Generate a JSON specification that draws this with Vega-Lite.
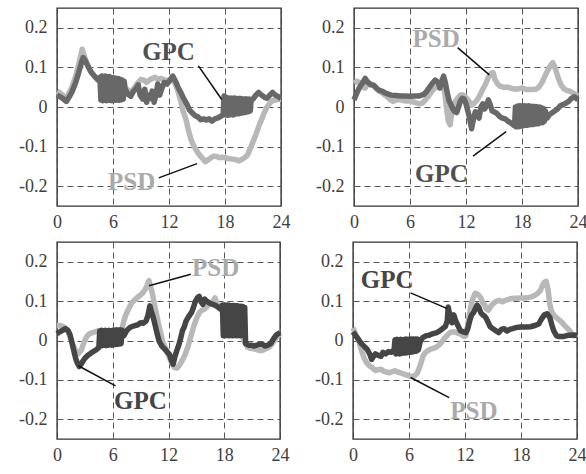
{
"$schema": "https://vega.github.io/schema/vega-lite/v6.json",
"padding": {"left": 17, "top": 7, "right": 0, "bottom": 0},
"config": {
 "view": {"stroke": "#333", "strokeWidth": 1.4},
 "font": "Liberation Serif",
 "axis": {"grid": true, "gridColor": "#444", "gridDash": [6,4], "gridWidth": 0.9, "domain": false, "ticks": false, "labelFont": "Liberation Serif", "labelFontSize": 18, "labelColor": "#404040", "labelPadding": 7, "labelFlush": false, "labelOverlap": false},
 "axisY": {"labelPadding": 10}
},
"datasets": {
"lines": [
{"p":1,"s":"GPC","t":0,"v":0.03},{"p":1,"s":"GPC","t":0.3,"v":0.026},{"p":1,"s":"GPC","t":0.6,"v":0.022},{"p":1,"s":"GPC","t":1,"v":0.014},{"p":1,"s":"GPC","t":1.3,"v":0.025},{"p":1,"s":"GPC","t":1.6,"v":0.038},{"p":1,"s":"GPC","t":2,"v":0.062},{"p":1,"s":"GPC","t":2.3,"v":0.085},{"p":1,"s":"GPC","t":2.6,"v":0.11},{"p":1,"s":"GPC","t":2.8,"v":0.125},{"p":1,"s":"GPC","t":3,"v":0.118},{"p":1,"s":"GPC","t":3.3,"v":0.104},{"p":1,"s":"GPC","t":3.6,"v":0.09},{"p":1,"s":"GPC","t":4,"v":0.078},{"p":1,"s":"GPC","t":4.4,"v":0.068},
{"p":1,"s":"GPC","t":4.6,"v":0.075},{"p":1,"s":"GPC","t":4.7,"v":0.018},{"p":1,"s":"GPC","t":4.8,"v":0.078},{"p":1,"s":"GPC","t":4.9,"v":0.016},{"p":1,"s":"GPC","t":5.0,"v":0.077},{"p":1,"s":"GPC","t":5.1,"v":0.017},{"p":1,"s":"GPC","t":5.2,"v":0.078},{"p":1,"s":"GPC","t":5.3,"v":0.016},{"p":1,"s":"GPC","t":5.4,"v":0.076},{"p":1,"s":"GPC","t":5.5,"v":0.018},{"p":1,"s":"GPC","t":5.6,"v":0.077},{"p":1,"s":"GPC","t":5.7,"v":0.017},{"p":1,"s":"GPC","t":5.8,"v":0.075},{"p":1,"s":"GPC","t":5.9,"v":0.016},{"p":1,"s":"GPC","t":6.0,"v":0.074},{"p":1,"s":"GPC","t":6.1,"v":0.018},{"p":1,"s":"GPC","t":6.2,"v":0.073},{"p":1,"s":"GPC","t":6.3,"v":0.017},{"p":1,"s":"GPC","t":6.4,"v":0.072},{"p":1,"s":"GPC","t":6.5,"v":0.018},{"p":1,"s":"GPC","t":6.6,"v":0.072},{"p":1,"s":"GPC","t":6.7,"v":0.017},{"p":1,"s":"GPC","t":6.8,"v":0.07},{"p":1,"s":"GPC","t":6.9,"v":0.018},{"p":1,"s":"GPC","t":7.0,"v":0.068},{"p":1,"s":"GPC","t":7.1,"v":0.02},{"p":1,"s":"GPC","t":7.2,"v":0.065},
{"p":1,"s":"GPC","t":7.3,"v":0.045},{"p":1,"s":"GPC","t":7.6,"v":0.032},{"p":1,"s":"GPC","t":7.9,"v":0.027},{"p":1,"s":"GPC","t":8.2,"v":0.04},{"p":1,"s":"GPC","t":8.5,"v":0.048},{"p":1,"s":"GPC","t":8.7,"v":0.056},{"p":1,"s":"GPC","t":8.9,"v":0.03},{"p":1,"s":"GPC","t":9.2,"v":0.02},{"p":1,"s":"GPC","t":9.4,"v":0.045},{"p":1,"s":"GPC","t":9.6,"v":0.012},{"p":1,"s":"GPC","t":9.8,"v":0.03},{"p":1,"s":"GPC","t":10.0,"v":0.022},{"p":1,"s":"GPC","t":10.2,"v":0.04},{"p":1,"s":"GPC","t":10.4,"v":0.012},{"p":1,"s":"GPC","t":10.6,"v":0.03},{"p":1,"s":"GPC","t":10.8,"v":0.058},{"p":1,"s":"GPC","t":11.0,"v":0.03},{"p":1,"s":"GPC","t":11.2,"v":0.045},{"p":1,"s":"GPC","t":11.5,"v":0.062},{"p":1,"s":"GPC","t":11.8,"v":0.058},{"p":1,"s":"GPC","t":12.1,"v":0.068},{"p":1,"s":"GPC","t":12.4,"v":0.078},{"p":1,"s":"GPC","t":12.7,"v":0.065},{"p":1,"s":"GPC","t":13.0,"v":0.048},{"p":1,"s":"GPC","t":13.3,"v":0.035},{"p":1,"s":"GPC","t":13.6,"v":0.02},{"p":1,"s":"GPC","t":13.9,"v":0.008},{"p":1,"s":"GPC","t":14.2,"v":-0.008},{"p":1,"s":"GPC","t":14.5,"v":-0.015},{"p":1,"s":"GPC","t":14.8,"v":-0.022},{"p":1,"s":"GPC","t":15.1,"v":-0.025},{"p":1,"s":"GPC","t":15.4,"v":-0.032},{"p":1,"s":"GPC","t":15.7,"v":-0.03},{"p":1,"s":"GPC","t":16.0,"v":-0.033},{"p":1,"s":"GPC","t":16.3,"v":-0.03},{"p":1,"s":"GPC","t":16.6,"v":-0.036},{"p":1,"s":"GPC","t":16.9,"v":-0.03},{"p":1,"s":"GPC","t":17.2,"v":-0.028},{"p":1,"s":"GPC","t":17.5,"v":-0.024},{"p":1,"s":"GPC","t":17.8,"v":-0.02},{"p":1,"s":"GPC","t":17.9,"v":0.028},
{"p":1,"s":"GPC","t":18.0,"v":0.024},{"p":1,"s":"GPC","t":18.1,"v":-0.02},{"p":1,"s":"GPC","t":18.2,"v":0.024},{"p":1,"s":"GPC","t":18.3,"v":-0.021},{"p":1,"s":"GPC","t":18.4,"v":0.022},{"p":1,"s":"GPC","t":18.5,"v":-0.02},{"p":1,"s":"GPC","t":18.6,"v":0.023},{"p":1,"s":"GPC","t":18.7,"v":-0.019},{"p":1,"s":"GPC","t":18.8,"v":0.022},{"p":1,"s":"GPC","t":18.9,"v":-0.02},{"p":1,"s":"GPC","t":19.0,"v":0.023},{"p":1,"s":"GPC","t":19.1,"v":-0.018},{"p":1,"s":"GPC","t":19.2,"v":0.022},{"p":1,"s":"GPC","t":19.3,"v":-0.017},{"p":1,"s":"GPC","t":19.4,"v":0.021},{"p":1,"s":"GPC","t":19.5,"v":-0.017},{"p":1,"s":"GPC","t":19.6,"v":0.022},{"p":1,"s":"GPC","t":19.7,"v":-0.016},{"p":1,"s":"GPC","t":19.8,"v":0.021},{"p":1,"s":"GPC","t":19.9,"v":-0.015},{"p":1,"s":"GPC","t":20.0,"v":0.02},{"p":1,"s":"GPC","t":20.1,"v":-0.014},{"p":1,"s":"GPC","t":20.2,"v":0.021},{"p":1,"s":"GPC","t":20.3,"v":-0.013},{"p":1,"s":"GPC","t":20.4,"v":0.02},{"p":1,"s":"GPC","t":20.5,"v":-0.012},{"p":1,"s":"GPC","t":20.6,"v":0.02},{"p":1,"s":"GPC","t":20.7,"v":-0.01},{"p":1,"s":"GPC","t":20.8,"v":0.018},
{"p":1,"s":"GPC","t":21.0,"v":0.02},{"p":1,"s":"GPC","t":21.3,"v":0.03},{"p":1,"s":"GPC","t":21.6,"v":0.037},{"p":1,"s":"GPC","t":21.9,"v":0.03},{"p":1,"s":"GPC","t":22.2,"v":0.025},{"p":1,"s":"GPC","t":22.5,"v":0.022},{"p":1,"s":"GPC","t":22.8,"v":0.03},{"p":1,"s":"GPC","t":23.1,"v":0.037},{"p":1,"s":"GPC","t":23.4,"v":0.03},{"p":1,"s":"GPC","t":23.7,"v":0.026},{"p":1,"s":"GPC","t":24,"v":0.022},

{"p":1,"s":"PSD","t":0,"v":0.04},{"p":1,"s":"PSD","t":0.3,"v":0.036},{"p":1,"s":"PSD","t":0.6,"v":0.03},{"p":1,"s":"PSD","t":1.0,"v":0.022},{"p":1,"s":"PSD","t":1.3,"v":0.035},{"p":1,"s":"PSD","t":1.6,"v":0.05},{"p":1,"s":"PSD","t":2.0,"v":0.078},{"p":1,"s":"PSD","t":2.3,"v":0.105},{"p":1,"s":"PSD","t":2.6,"v":0.135},{"p":1,"s":"PSD","t":2.7,"v":0.146},{"p":1,"s":"PSD","t":2.9,"v":0.13},{"p":1,"s":"PSD","t":3.2,"v":0.11},{"p":1,"s":"PSD","t":3.5,"v":0.095},{"p":1,"s":"PSD","t":3.8,"v":0.085},{"p":1,"s":"PSD","t":4.1,"v":0.076},{"p":1,"s":"PSD","t":4.4,"v":0.07},{"p":1,"s":"PSD","t":4.7,"v":0.068},{"p":1,"s":"PSD","t":5.2,"v":0.065},{"p":1,"s":"PSD","t":5.7,"v":0.06},{"p":1,"s":"PSD","t":6.2,"v":0.055},{"p":1,"s":"PSD","t":6.7,"v":0.05},{"p":1,"s":"PSD","t":7.2,"v":0.05},{"p":1,"s":"PSD","t":7.5,"v":0.045},{"p":1,"s":"PSD","t":7.8,"v":0.038},{"p":1,"s":"PSD","t":8.1,"v":0.042},{"p":1,"s":"PSD","t":8.4,"v":0.052},{"p":1,"s":"PSD","t":8.7,"v":0.062},{"p":1,"s":"PSD","t":9.0,"v":0.07},{"p":1,"s":"PSD","t":9.3,"v":0.068},{"p":1,"s":"PSD","t":9.6,"v":0.062},{"p":1,"s":"PSD","t":9.9,"v":0.068},{"p":1,"s":"PSD","t":10.2,"v":0.072},{"p":1,"s":"PSD","t":10.5,"v":0.075},{"p":1,"s":"PSD","t":10.8,"v":0.07},{"p":1,"s":"PSD","t":11.1,"v":0.072},{"p":1,"s":"PSD","t":11.4,"v":0.07},{"p":1,"s":"PSD","t":11.7,"v":0.068},{"p":1,"s":"PSD","t":12.0,"v":0.066},{"p":1,"s":"PSD","t":12.3,"v":0.068},{"p":1,"s":"PSD","t":12.6,"v":0.062},{"p":1,"s":"PSD","t":12.9,"v":0.045},{"p":1,"s":"PSD","t":13.2,"v":0.02},{"p":1,"s":"PSD","t":13.5,"v":-0.01},{"p":1,"s":"PSD","t":13.8,"v":-0.03},{"p":1,"s":"PSD","t":14.1,"v":-0.06},{"p":1,"s":"PSD","t":14.4,"v":-0.085},{"p":1,"s":"PSD","t":14.7,"v":-0.1},{"p":1,"s":"PSD","t":15.0,"v":-0.112},{"p":1,"s":"PSD","t":15.3,"v":-0.122},{"p":1,"s":"PSD","t":15.6,"v":-0.13},{"p":1,"s":"PSD","t":15.9,"v":-0.138},{"p":1,"s":"PSD","t":16.2,"v":-0.133},{"p":1,"s":"PSD","t":16.5,"v":-0.128},{"p":1,"s":"PSD","t":16.8,"v":-0.124},{"p":1,"s":"PSD","t":17.1,"v":-0.125},{"p":1,"s":"PSD","t":17.4,"v":-0.128},{"p":1,"s":"PSD","t":17.7,"v":-0.127},{"p":1,"s":"PSD","t":18.0,"v":-0.128},{"p":1,"s":"PSD","t":18.3,"v":-0.13},{"p":1,"s":"PSD","t":18.6,"v":-0.131},{"p":1,"s":"PSD","t":18.9,"v":-0.132},{"p":1,"s":"PSD","t":19.2,"v":-0.133},{"p":1,"s":"PSD","t":19.5,"v":-0.136},{"p":1,"s":"PSD","t":19.8,"v":-0.132},{"p":1,"s":"PSD","t":20.1,"v":-0.128},{"p":1,"s":"PSD","t":20.4,"v":-0.122},{"p":1,"s":"PSD","t":20.7,"v":-0.105},{"p":1,"s":"PSD","t":21.0,"v":-0.088},{"p":1,"s":"PSD","t":21.3,"v":-0.07},{"p":1,"s":"PSD","t":21.6,"v":-0.05},{"p":1,"s":"PSD","t":21.9,"v":-0.033},{"p":1,"s":"PSD","t":22.2,"v":-0.015},{"p":1,"s":"PSD","t":22.5,"v":0.0},{"p":1,"s":"PSD","t":22.8,"v":0.01},{"p":1,"s":"PSD","t":23.1,"v":0.016},{"p":1,"s":"PSD","t":23.5,"v":0.018},{"p":1,"s":"PSD","t":24,"v":0.02},

{"p":2,"s":"GPC","t":0,"v":0.018},{"p":2,"s":"GPC","t":0.3,"v":0.035},{"p":2,"s":"GPC","t":0.6,"v":0.05},{"p":2,"s":"GPC","t":0.9,"v":0.06},{"p":2,"s":"GPC","t":1.2,"v":0.072},{"p":2,"s":"GPC","t":1.5,"v":0.062},{"p":2,"s":"GPC","t":1.8,"v":0.056},{"p":2,"s":"GPC","t":2.1,"v":0.055},{"p":2,"s":"GPC","t":2.4,"v":0.048},{"p":2,"s":"GPC","t":2.7,"v":0.042},{"p":2,"s":"GPC","t":3.0,"v":0.04},{"p":2,"s":"GPC","t":3.3,"v":0.036},{"p":2,"s":"GPC","t":3.6,"v":0.033},{"p":2,"s":"GPC","t":4.0,"v":0.03},{"p":2,"s":"GPC","t":4.5,"v":0.029},{"p":2,"s":"GPC","t":5.0,"v":0.028},{"p":2,"s":"GPC","t":5.5,"v":0.028},{"p":2,"s":"GPC","t":6.0,"v":0.027},{"p":2,"s":"GPC","t":6.5,"v":0.028},{"p":2,"s":"GPC","t":7.0,"v":0.028},{"p":2,"s":"GPC","t":7.5,"v":0.032},{"p":2,"s":"GPC","t":7.8,"v":0.04},{"p":2,"s":"GPC","t":8.1,"v":0.05},{"p":2,"s":"GPC","t":8.4,"v":0.06},{"p":2,"s":"GPC","t":8.7,"v":0.068},{"p":2,"s":"GPC","t":9.0,"v":0.062},{"p":2,"s":"GPC","t":9.2,"v":0.048},{"p":2,"s":"GPC","t":9.4,"v":0.065},{"p":2,"s":"GPC","t":9.6,"v":0.078},{"p":2,"s":"GPC","t":9.8,"v":0.06},{"p":2,"s":"GPC","t":10.0,"v":0.035},{"p":2,"s":"GPC","t":10.2,"v":0.015},{"p":2,"s":"GPC","t":10.4,"v":0.005},{"p":2,"s":"GPC","t":10.6,"v":-0.005},{"p":2,"s":"GPC","t":10.8,"v":-0.012},{"p":2,"s":"GPC","t":11.0,"v":-0.014},{"p":2,"s":"GPC","t":11.2,"v":0.0},{"p":2,"s":"GPC","t":11.4,"v":0.015},{"p":2,"s":"GPC","t":11.6,"v":0.022},{"p":2,"s":"GPC","t":11.8,"v":0.02},{"p":2,"s":"GPC","t":12.0,"v":0.008},{"p":2,"s":"GPC","t":12.2,"v":-0.01},{"p":2,"s":"GPC","t":12.4,"v":-0.03},{"p":2,"s":"GPC","t":12.6,"v":-0.055},{"p":2,"s":"GPC","t":12.8,"v":-0.03},{"p":2,"s":"GPC","t":13.0,"v":-0.012},{"p":2,"s":"GPC","t":13.2,"v":-0.02},{"p":2,"s":"GPC","t":13.4,"v":-0.028},{"p":2,"s":"GPC","t":13.6,"v":0.0},{"p":2,"s":"GPC","t":13.8,"v":0.008},{"p":2,"s":"GPC","t":14.0,"v":-0.005},{"p":2,"s":"GPC","t":14.2,"v":0.005},{"p":2,"s":"GPC","t":14.4,"v":0.018},{"p":2,"s":"GPC","t":14.6,"v":0.005},{"p":2,"s":"GPC","t":14.8,"v":-0.01},{"p":2,"s":"GPC","t":15.0,"v":-0.012},{"p":2,"s":"GPC","t":15.3,"v":-0.016},{"p":2,"s":"GPC","t":15.6,"v":-0.024},{"p":2,"s":"GPC","t":15.9,"v":-0.028},{"p":2,"s":"GPC","t":16.2,"v":-0.03},{"p":2,"s":"GPC","t":16.5,"v":-0.036},{"p":2,"s":"GPC","t":16.8,"v":-0.04},{"p":2,"s":"GPC","t":17.1,"v":-0.046},{"p":2,"s":"GPC","t":17.2,"v":-0.048},
{"p":2,"s":"GPC","t":17.3,"v":0.0},{"p":2,"s":"GPC","t":17.4,"v":-0.05},{"p":2,"s":"GPC","t":17.5,"v":0.002},{"p":2,"s":"GPC","t":17.6,"v":-0.05},{"p":2,"s":"GPC","t":17.7,"v":0.003},{"p":2,"s":"GPC","t":17.8,"v":-0.049},{"p":2,"s":"GPC","t":17.9,"v":0.003},{"p":2,"s":"GPC","t":18.0,"v":-0.048},{"p":2,"s":"GPC","t":18.1,"v":0.002},{"p":2,"s":"GPC","t":18.2,"v":-0.047},{"p":2,"s":"GPC","t":18.3,"v":0.003},{"p":2,"s":"GPC","t":18.4,"v":-0.046},{"p":2,"s":"GPC","t":18.5,"v":0.002},{"p":2,"s":"GPC","t":18.6,"v":-0.046},{"p":2,"s":"GPC","t":18.7,"v":0.003},{"p":2,"s":"GPC","t":18.8,"v":-0.045},{"p":2,"s":"GPC","t":18.9,"v":0.002},{"p":2,"s":"GPC","t":19.0,"v":-0.044},{"p":2,"s":"GPC","t":19.1,"v":0.002},{"p":2,"s":"GPC","t":19.2,"v":-0.044},{"p":2,"s":"GPC","t":19.3,"v":0.001},{"p":2,"s":"GPC","t":19.4,"v":-0.043},{"p":2,"s":"GPC","t":19.5,"v":0.001},{"p":2,"s":"GPC","t":19.6,"v":-0.042},{"p":2,"s":"GPC","t":19.7,"v":0.0},{"p":2,"s":"GPC","t":19.8,"v":-0.042},{"p":2,"s":"GPC","t":19.9,"v":0.0},{"p":2,"s":"GPC","t":20.0,"v":-0.04},{"p":2,"s":"GPC","t":20.1,"v":-0.002},{"p":2,"s":"GPC","t":20.2,"v":-0.04},{"p":2,"s":"GPC","t":20.3,"v":-0.004},{"p":2,"s":"GPC","t":20.4,"v":-0.036},{"p":2,"s":"GPC","t":20.5,"v":-0.01},
{"p":2,"s":"GPC","t":20.7,"v":-0.028},{"p":2,"s":"GPC","t":20.9,"v":-0.02},{"p":2,"s":"GPC","t":21.2,"v":-0.015},{"p":2,"s":"GPC","t":21.5,"v":-0.01},{"p":2,"s":"GPC","t":21.8,"v":-0.005},{"p":2,"s":"GPC","t":22.1,"v":0.003},{"p":2,"s":"GPC","t":22.4,"v":0.006},{"p":2,"s":"GPC","t":22.7,"v":0.01},{"p":2,"s":"GPC","t":23.0,"v":0.014},{"p":2,"s":"GPC","t":23.3,"v":0.022},{"p":2,"s":"GPC","t":23.6,"v":0.026},{"p":2,"s":"GPC","t":24,"v":0.018},

{"p":2,"s":"PSD","t":0,"v":0.06},{"p":2,"s":"PSD","t":0.3,"v":0.065},{"p":2,"s":"PSD","t":0.6,"v":0.062},{"p":2,"s":"PSD","t":0.9,"v":0.05},{"p":2,"s":"PSD","t":1.2,"v":0.048},{"p":2,"s":"PSD","t":1.5,"v":0.062},{"p":2,"s":"PSD","t":1.8,"v":0.058},{"p":2,"s":"PSD","t":2.1,"v":0.055},{"p":2,"s":"PSD","t":2.4,"v":0.046},{"p":2,"s":"PSD","t":2.7,"v":0.04},{"p":2,"s":"PSD","t":3.0,"v":0.036},{"p":2,"s":"PSD","t":3.3,"v":0.03},{"p":2,"s":"PSD","t":3.6,"v":0.025},{"p":2,"s":"PSD","t":3.9,"v":0.018},{"p":2,"s":"PSD","t":4.2,"v":0.014},{"p":2,"s":"PSD","t":4.5,"v":0.018},{"p":2,"s":"PSD","t":5.0,"v":0.018},{"p":2,"s":"PSD","t":5.5,"v":0.015},{"p":2,"s":"PSD","t":6.0,"v":0.015},{"p":2,"s":"PSD","t":6.5,"v":0.012},{"p":2,"s":"PSD","t":7.0,"v":0.008},{"p":2,"s":"PSD","t":7.3,"v":0.01},{"p":2,"s":"PSD","t":7.6,"v":0.016},{"p":2,"s":"PSD","t":7.9,"v":0.025},{"p":2,"s":"PSD","t":8.2,"v":0.035},{"p":2,"s":"PSD","t":8.5,"v":0.045},{"p":2,"s":"PSD","t":8.8,"v":0.05},{"p":2,"s":"PSD","t":9.1,"v":0.05},{"p":2,"s":"PSD","t":9.4,"v":0.052},{"p":2,"s":"PSD","t":9.7,"v":0.04},{"p":2,"s":"PSD","t":9.9,"v":0.0},{"p":2,"s":"PSD","t":10.1,"v":-0.035},{"p":2,"s":"PSD","t":10.3,"v":-0.045},{"p":2,"s":"PSD","t":10.5,"v":-0.01},{"p":2,"s":"PSD","t":10.8,"v":0.012},{"p":2,"s":"PSD","t":11.1,"v":0.022},{"p":2,"s":"PSD","t":11.4,"v":0.03},{"p":2,"s":"PSD","t":11.7,"v":0.03},{"p":2,"s":"PSD","t":12.0,"v":0.024},{"p":2,"s":"PSD","t":12.3,"v":0.015},{"p":2,"s":"PSD","t":12.6,"v":0.005},{"p":2,"s":"PSD","t":12.9,"v":0.01},{"p":2,"s":"PSD","t":13.2,"v":0.018},{"p":2,"s":"PSD","t":13.5,"v":0.03},{"p":2,"s":"PSD","t":13.8,"v":0.045},{"p":2,"s":"PSD","t":14.1,"v":0.058},{"p":2,"s":"PSD","t":14.4,"v":0.075},{"p":2,"s":"PSD","t":14.7,"v":0.085},{"p":2,"s":"PSD","t":14.9,"v":0.087},{"p":2,"s":"PSD","t":15.1,"v":0.07},{"p":2,"s":"PSD","t":15.4,"v":0.058},{"p":2,"s":"PSD","t":15.7,"v":0.052},{"p":2,"s":"PSD","t":16.0,"v":0.05},{"p":2,"s":"PSD","t":16.5,"v":0.05},{"p":2,"s":"PSD","t":17.0,"v":0.046},{"p":2,"s":"PSD","t":17.5,"v":0.045},{"p":2,"s":"PSD","t":18.0,"v":0.048},{"p":2,"s":"PSD","t":18.5,"v":0.044},{"p":2,"s":"PSD","t":19.0,"v":0.044},{"p":2,"s":"PSD","t":19.5,"v":0.045},{"p":2,"s":"PSD","t":19.8,"v":0.05},{"p":2,"s":"PSD","t":20.1,"v":0.06},{"p":2,"s":"PSD","t":20.4,"v":0.075},{"p":2,"s":"PSD","t":20.7,"v":0.09},{"p":2,"s":"PSD","t":21.0,"v":0.103},{"p":2,"s":"PSD","t":21.3,"v":0.112},{"p":2,"s":"PSD","t":21.6,"v":0.095},{"p":2,"s":"PSD","t":21.9,"v":0.072},{"p":2,"s":"PSD","t":22.2,"v":0.055},{"p":2,"s":"PSD","t":22.5,"v":0.046},{"p":2,"s":"PSD","t":22.8,"v":0.042},{"p":2,"s":"PSD","t":23.1,"v":0.04},{"p":2,"s":"PSD","t":23.5,"v":0.035},{"p":2,"s":"PSD","t":24,"v":0.028},

{"p":3,"s":"GPC","t":0,"v":0.017},{"p":3,"s":"GPC","t":0.3,"v":0.022},{"p":3,"s":"GPC","t":0.6,"v":0.026},{"p":3,"s":"GPC","t":0.9,"v":0.03},{"p":3,"s":"GPC","t":1.2,"v":0.025},{"p":3,"s":"GPC","t":1.4,"v":0.015},{"p":3,"s":"GPC","t":1.6,"v":-0.005},{"p":3,"s":"GPC","t":1.8,"v":-0.025},{"p":3,"s":"GPC","t":2.0,"v":-0.045},{"p":3,"s":"GPC","t":2.2,"v":-0.058},{"p":3,"s":"GPC","t":2.4,"v":-0.066},{"p":3,"s":"GPC","t":2.6,"v":-0.06},{"p":3,"s":"GPC","t":2.8,"v":-0.052},{"p":3,"s":"GPC","t":3.0,"v":-0.045},{"p":3,"s":"GPC","t":3.3,"v":-0.038},{"p":3,"s":"GPC","t":3.6,"v":-0.033},{"p":3,"s":"GPC","t":3.9,"v":-0.028},{"p":3,"s":"GPC","t":4.2,"v":-0.024},{"p":3,"s":"GPC","t":4.5,"v":-0.018},
{"p":3,"s":"GPC","t":4.6,"v":0.024},{"p":3,"s":"GPC","t":4.7,"v":-0.014},{"p":3,"s":"GPC","t":4.8,"v":0.026},{"p":3,"s":"GPC","t":4.9,"v":-0.013},{"p":3,"s":"GPC","t":5.0,"v":0.025},{"p":3,"s":"GPC","t":5.1,"v":-0.012},{"p":3,"s":"GPC","t":5.2,"v":0.026},{"p":3,"s":"GPC","t":5.3,"v":-0.013},{"p":3,"s":"GPC","t":5.4,"v":0.025},{"p":3,"s":"GPC","t":5.5,"v":-0.012},{"p":3,"s":"GPC","t":5.6,"v":0.026},{"p":3,"s":"GPC","t":5.7,"v":-0.011},{"p":3,"s":"GPC","t":5.8,"v":0.025},{"p":3,"s":"GPC","t":5.9,"v":-0.012},{"p":3,"s":"GPC","t":6.0,"v":0.026},{"p":3,"s":"GPC","t":6.1,"v":-0.011},{"p":3,"s":"GPC","t":6.2,"v":0.026},{"p":3,"s":"GPC","t":6.3,"v":-0.01},{"p":3,"s":"GPC","t":6.4,"v":0.027},{"p":3,"s":"GPC","t":6.5,"v":-0.01},{"p":3,"s":"GPC","t":6.6,"v":0.026},{"p":3,"s":"GPC","t":6.7,"v":-0.009},{"p":3,"s":"GPC","t":6.8,"v":0.027},{"p":3,"s":"GPC","t":6.9,"v":-0.008},{"p":3,"s":"GPC","t":7.0,"v":0.026},
{"p":3,"s":"GPC","t":7.2,"v":0.012},{"p":3,"s":"GPC","t":7.5,"v":0.025},{"p":3,"s":"GPC","t":7.8,"v":0.032},{"p":3,"s":"GPC","t":8.1,"v":0.036},{"p":3,"s":"GPC","t":8.4,"v":0.038},{"p":3,"s":"GPC","t":8.7,"v":0.04},{"p":3,"s":"GPC","t":9.0,"v":0.045},{"p":3,"s":"GPC","t":9.3,"v":0.044},{"p":3,"s":"GPC","t":9.6,"v":0.05},{"p":3,"s":"GPC","t":9.8,"v":0.065},{"p":3,"s":"GPC","t":10.0,"v":0.088},{"p":3,"s":"GPC","t":10.2,"v":0.07},{"p":3,"s":"GPC","t":10.4,"v":0.055},{"p":3,"s":"GPC","t":10.6,"v":0.035},{"p":3,"s":"GPC","t":10.8,"v":0.015},{"p":3,"s":"GPC","t":11.0,"v":-0.002},{"p":3,"s":"GPC","t":11.3,"v":-0.015},{"p":3,"s":"GPC","t":11.6,"v":-0.022},{"p":3,"s":"GPC","t":11.9,"v":-0.03},{"p":3,"s":"GPC","t":12.1,"v":-0.035},{"p":3,"s":"GPC","t":12.3,"v":-0.05},{"p":3,"s":"GPC","t":12.5,"v":-0.06},{"p":3,"s":"GPC","t":12.7,"v":-0.04},{"p":3,"s":"GPC","t":12.9,"v":-0.025},{"p":3,"s":"GPC","t":13.1,"v":-0.012},{"p":3,"s":"GPC","t":13.3,"v":0.005},{"p":3,"s":"GPC","t":13.5,"v":0.025},{"p":3,"s":"GPC","t":13.7,"v":0.035},{"p":3,"s":"GPC","t":13.9,"v":0.05},{"p":3,"s":"GPC","t":14.1,"v":0.058},{"p":3,"s":"GPC","t":14.3,"v":0.065},{"p":3,"s":"GPC","t":14.5,"v":0.072},{"p":3,"s":"GPC","t":14.7,"v":0.085},{"p":3,"s":"GPC","t":14.9,"v":0.1},{"p":3,"s":"GPC","t":15.1,"v":0.108},{"p":3,"s":"GPC","t":15.3,"v":0.112},{"p":3,"s":"GPC","t":15.5,"v":0.098},{"p":3,"s":"GPC","t":15.7,"v":0.092},{"p":3,"s":"GPC","t":15.9,"v":0.105},{"p":3,"s":"GPC","t":16.1,"v":0.1},{"p":3,"s":"GPC","t":16.4,"v":0.095},{"p":3,"s":"GPC","t":16.7,"v":0.092},{"p":3,"s":"GPC","t":17.0,"v":0.09},{"p":3,"s":"GPC","t":17.3,"v":0.085},{"p":3,"s":"GPC","t":17.6,"v":0.08},
{"p":3,"s":"GPC","t":17.8,"v":0.09},{"p":3,"s":"GPC","t":17.9,"v":0.012},{"p":3,"s":"GPC","t":18.0,"v":0.09},{"p":3,"s":"GPC","t":18.1,"v":0.012},{"p":3,"s":"GPC","t":18.2,"v":0.089},{"p":3,"s":"GPC","t":18.3,"v":0.013},{"p":3,"s":"GPC","t":18.4,"v":0.09},{"p":3,"s":"GPC","t":18.5,"v":0.012},{"p":3,"s":"GPC","t":18.6,"v":0.089},{"p":3,"s":"GPC","t":18.7,"v":0.013},{"p":3,"s":"GPC","t":18.8,"v":0.088},{"p":3,"s":"GPC","t":18.9,"v":0.012},{"p":3,"s":"GPC","t":19.0,"v":0.089},{"p":3,"s":"GPC","t":19.1,"v":0.013},{"p":3,"s":"GPC","t":19.2,"v":0.088},{"p":3,"s":"GPC","t":19.3,"v":0.012},{"p":3,"s":"GPC","t":19.4,"v":0.088},{"p":3,"s":"GPC","t":19.5,"v":0.013},{"p":3,"s":"GPC","t":19.6,"v":0.087},{"p":3,"s":"GPC","t":19.7,"v":0.012},{"p":3,"s":"GPC","t":19.8,"v":0.087},{"p":3,"s":"GPC","t":19.9,"v":0.013},{"p":3,"s":"GPC","t":20.0,"v":0.086},{"p":3,"s":"GPC","t":20.1,"v":0.012},{"p":3,"s":"GPC","t":20.2,"v":0.084},
{"p":3,"s":"GPC","t":20.3,"v":-0.008},{"p":3,"s":"GPC","t":20.6,"v":-0.012},{"p":3,"s":"GPC","t":20.9,"v":-0.012},{"p":3,"s":"GPC","t":21.2,"v":-0.014},{"p":3,"s":"GPC","t":21.5,"v":-0.012},{"p":3,"s":"GPC","t":21.8,"v":-0.01},{"p":3,"s":"GPC","t":22.1,"v":-0.01},{"p":3,"s":"GPC","t":22.4,"v":-0.014},{"p":3,"s":"GPC","t":22.7,"v":-0.012},{"p":3,"s":"GPC","t":23.0,"v":-0.008},{"p":3,"s":"GPC","t":23.3,"v":0.004},{"p":3,"s":"GPC","t":23.6,"v":0.014},{"p":3,"s":"GPC","t":24,"v":0.02},

{"p":3,"s":"PSD","t":0,"v":0.038},{"p":3,"s":"PSD","t":0.4,"v":0.038},{"p":3,"s":"PSD","t":0.8,"v":0.034},{"p":3,"s":"PSD","t":1.1,"v":0.028},{"p":3,"s":"PSD","t":1.4,"v":0.01},{"p":3,"s":"PSD","t":1.7,"v":-0.01},{"p":3,"s":"PSD","t":2.0,"v":-0.025},{"p":3,"s":"PSD","t":2.3,"v":-0.034},{"p":3,"s":"PSD","t":2.6,"v":-0.025},{"p":3,"s":"PSD","t":2.9,"v":-0.005},{"p":3,"s":"PSD","t":3.2,"v":0.01},{"p":3,"s":"PSD","t":3.5,"v":0.017},{"p":3,"s":"PSD","t":3.8,"v":0.02},{"p":3,"s":"PSD","t":4.1,"v":0.022},{"p":3,"s":"PSD","t":4.5,"v":0.025},{"p":3,"s":"PSD","t":5.0,"v":0.022},{"p":3,"s":"PSD","t":5.5,"v":0.02},{"p":3,"s":"PSD","t":6.0,"v":0.022},{"p":3,"s":"PSD","t":6.5,"v":0.025},{"p":3,"s":"PSD","t":7.0,"v":0.03},{"p":3,"s":"PSD","t":7.2,"v":0.05},{"p":3,"s":"PSD","t":7.4,"v":0.065},{"p":3,"s":"PSD","t":7.7,"v":0.08},{"p":3,"s":"PSD","t":8.0,"v":0.094},{"p":3,"s":"PSD","t":8.3,"v":0.102},{"p":3,"s":"PSD","t":8.6,"v":0.108},{"p":3,"s":"PSD","t":8.9,"v":0.114},{"p":3,"s":"PSD","t":9.2,"v":0.12},{"p":3,"s":"PSD","t":9.5,"v":0.13},{"p":3,"s":"PSD","t":9.7,"v":0.14},{"p":3,"s":"PSD","t":9.9,"v":0.152},{"p":3,"s":"PSD","t":10.1,"v":0.135},{"p":3,"s":"PSD","t":10.3,"v":0.115},{"p":3,"s":"PSD","t":10.5,"v":0.09},{"p":3,"s":"PSD","t":10.7,"v":0.068},{"p":3,"s":"PSD","t":10.9,"v":0.045},{"p":3,"s":"PSD","t":11.1,"v":0.025},{"p":3,"s":"PSD","t":11.4,"v":-0.005},{"p":3,"s":"PSD","t":11.7,"v":-0.02},{"p":3,"s":"PSD","t":12.0,"v":-0.038},{"p":3,"s":"PSD","t":12.3,"v":-0.055},{"p":3,"s":"PSD","t":12.6,"v":-0.068},{"p":3,"s":"PSD","t":12.9,"v":-0.07},{"p":3,"s":"PSD","t":13.2,"v":-0.062},{"p":3,"s":"PSD","t":13.5,"v":-0.05},{"p":3,"s":"PSD","t":13.8,"v":-0.035},{"p":3,"s":"PSD","t":14.1,"v":-0.015},{"p":3,"s":"PSD","t":14.4,"v":0.01},{"p":3,"s":"PSD","t":14.7,"v":0.035},{"p":3,"s":"PSD","t":15.0,"v":0.055},{"p":3,"s":"PSD","t":15.3,"v":0.07},{"p":3,"s":"PSD","t":15.6,"v":0.077},{"p":3,"s":"PSD","t":15.9,"v":0.08},{"p":3,"s":"PSD","t":16.2,"v":0.088},{"p":3,"s":"PSD","t":16.5,"v":0.094},{"p":3,"s":"PSD","t":16.8,"v":0.1},{"p":3,"s":"PSD","t":17.0,"v":0.108},{"p":3,"s":"PSD","t":17.2,"v":0.095},{"p":3,"s":"PSD","t":17.5,"v":0.082},{"p":3,"s":"PSD","t":17.8,"v":0.075},{"p":3,"s":"PSD","t":18.5,"v":0.06},{"p":3,"s":"PSD","t":19.2,"v":0.04},{"p":3,"s":"PSD","t":19.8,"v":0.02},{"p":3,"s":"PSD","t":20.2,"v":-0.005},{"p":3,"s":"PSD","t":20.5,"v":-0.017},{"p":3,"s":"PSD","t":20.8,"v":-0.02},{"p":3,"s":"PSD","t":21.2,"v":-0.021},{"p":3,"s":"PSD","t":21.6,"v":-0.024},{"p":3,"s":"PSD","t":22.0,"v":-0.026},{"p":3,"s":"PSD","t":22.4,"v":-0.022},{"p":3,"s":"PSD","t":22.8,"v":-0.017},{"p":3,"s":"PSD","t":23.1,"v":-0.01},{"p":3,"s":"PSD","t":23.4,"v":0.0},{"p":3,"s":"PSD","t":23.7,"v":0.01},{"p":3,"s":"PSD","t":24,"v":0.017},

{"p":4,"s":"GPC","t":0,"v":0.022},{"p":4,"s":"GPC","t":0.3,"v":0.012},{"p":4,"s":"GPC","t":0.6,"v":0.002},{"p":4,"s":"GPC","t":0.9,"v":-0.008},{"p":4,"s":"GPC","t":1.2,"v":-0.015},{"p":4,"s":"GPC","t":1.5,"v":-0.022},{"p":4,"s":"GPC","t":1.8,"v":-0.035},{"p":4,"s":"GPC","t":2.0,"v":-0.048},{"p":4,"s":"GPC","t":2.2,"v":-0.04},{"p":4,"s":"GPC","t":2.4,"v":-0.034},{"p":4,"s":"GPC","t":2.7,"v":-0.038},{"p":4,"s":"GPC","t":3.0,"v":-0.04},{"p":4,"s":"GPC","t":3.2,"v":-0.03},{"p":4,"s":"GPC","t":3.5,"v":-0.034},{"p":4,"s":"GPC","t":3.8,"v":-0.028},{"p":4,"s":"GPC","t":4.1,"v":-0.03},{"p":4,"s":"GPC","t":4.4,"v":-0.024},
{"p":4,"s":"GPC","t":4.5,"v":0.002},{"p":4,"s":"GPC","t":4.6,"v":-0.034},{"p":4,"s":"GPC","t":4.7,"v":0.003},{"p":4,"s":"GPC","t":4.8,"v":-0.033},{"p":4,"s":"GPC","t":4.9,"v":0.002},{"p":4,"s":"GPC","t":5.0,"v":-0.034},{"p":4,"s":"GPC","t":5.1,"v":0.003},{"p":4,"s":"GPC","t":5.2,"v":-0.033},{"p":4,"s":"GPC","t":5.3,"v":0.002},{"p":4,"s":"GPC","t":5.4,"v":-0.032},{"p":4,"s":"GPC","t":5.5,"v":0.003},{"p":4,"s":"GPC","t":5.6,"v":-0.032},{"p":4,"s":"GPC","t":5.7,"v":0.004},{"p":4,"s":"GPC","t":5.8,"v":-0.031},{"p":4,"s":"GPC","t":5.9,"v":0.003},{"p":4,"s":"GPC","t":6.0,"v":-0.03},{"p":4,"s":"GPC","t":6.1,"v":0.004},{"p":4,"s":"GPC","t":6.2,"v":-0.03},{"p":4,"s":"GPC","t":6.3,"v":0.004},{"p":4,"s":"GPC","t":6.4,"v":-0.029},{"p":4,"s":"GPC","t":6.5,"v":0.004},{"p":4,"s":"GPC","t":6.6,"v":-0.028},{"p":4,"s":"GPC","t":6.7,"v":0.004},{"p":4,"s":"GPC","t":6.8,"v":-0.027},{"p":4,"s":"GPC","t":6.9,"v":0.004},{"p":4,"s":"GPC","t":7.0,"v":-0.024},
{"p":4,"s":"GPC","t":7.2,"v":-0.003},{"p":4,"s":"GPC","t":7.5,"v":0.008},{"p":4,"s":"GPC","t":7.8,"v":0.012},{"p":4,"s":"GPC","t":8.1,"v":0.013},{"p":4,"s":"GPC","t":8.4,"v":0.016},{"p":4,"s":"GPC","t":8.7,"v":0.018},{"p":4,"s":"GPC","t":9.0,"v":0.02},{"p":4,"s":"GPC","t":9.3,"v":0.025},{"p":4,"s":"GPC","t":9.6,"v":0.03},{"p":4,"s":"GPC","t":9.9,"v":0.036},{"p":4,"s":"GPC","t":10.1,"v":0.05},{"p":4,"s":"GPC","t":10.2,"v":0.085},{"p":4,"s":"GPC","t":10.4,"v":0.06},{"p":4,"s":"GPC","t":10.6,"v":0.045},{"p":4,"s":"GPC","t":10.8,"v":0.065},{"p":4,"s":"GPC","t":11.0,"v":0.05},{"p":4,"s":"GPC","t":11.2,"v":0.04},{"p":4,"s":"GPC","t":11.5,"v":0.025},{"p":4,"s":"GPC","t":11.8,"v":0.022},{"p":4,"s":"GPC","t":12.1,"v":0.02},{"p":4,"s":"GPC","t":12.3,"v":0.03},{"p":4,"s":"GPC","t":12.5,"v":0.05},{"p":4,"s":"GPC","t":12.7,"v":0.065},{"p":4,"s":"GPC","t":12.9,"v":0.07},{"p":4,"s":"GPC","t":13.1,"v":0.08},{"p":4,"s":"GPC","t":13.3,"v":0.09},{"p":4,"s":"GPC","t":13.5,"v":0.083},{"p":4,"s":"GPC","t":13.7,"v":0.07},{"p":4,"s":"GPC","t":13.9,"v":0.065},{"p":4,"s":"GPC","t":14.1,"v":0.062},{"p":4,"s":"GPC","t":14.3,"v":0.055},{"p":4,"s":"GPC","t":14.5,"v":0.045},{"p":4,"s":"GPC","t":14.7,"v":0.035},{"p":4,"s":"GPC","t":15.0,"v":0.03},{"p":4,"s":"GPC","t":15.3,"v":0.025},{"p":4,"s":"GPC","t":15.6,"v":0.02},{"p":4,"s":"GPC","t":15.9,"v":0.028},{"p":4,"s":"GPC","t":16.2,"v":0.03},{"p":4,"s":"GPC","t":16.5,"v":0.024},{"p":4,"s":"GPC","t":16.8,"v":0.028},{"p":4,"s":"GPC","t":17.1,"v":0.03},{"p":4,"s":"GPC","t":17.5,"v":0.033},{"p":4,"s":"GPC","t":18.0,"v":0.034},{"p":4,"s":"GPC","t":18.5,"v":0.034},{"p":4,"s":"GPC","t":19.0,"v":0.035},{"p":4,"s":"GPC","t":19.5,"v":0.038},{"p":4,"s":"GPC","t":19.9,"v":0.042},{"p":4,"s":"GPC","t":20.2,"v":0.055},{"p":4,"s":"GPC","t":20.5,"v":0.065},{"p":4,"s":"GPC","t":20.8,"v":0.068},{"p":4,"s":"GPC","t":21.1,"v":0.058},{"p":4,"s":"GPC","t":21.3,"v":0.04},{"p":4,"s":"GPC","t":21.5,"v":0.025},{"p":4,"s":"GPC","t":21.8,"v":0.012},{"p":4,"s":"GPC","t":22.1,"v":0.01},{"p":4,"s":"GPC","t":22.5,"v":0.01},{"p":4,"s":"GPC","t":23.0,"v":0.013},{"p":4,"s":"GPC","t":23.5,"v":0.014},{"p":4,"s":"GPC","t":24,"v":0.013},

{"p":4,"s":"PSD","t":0,"v":0.032},{"p":4,"s":"PSD","t":0.3,"v":0.015},{"p":4,"s":"PSD","t":0.6,"v":0.0},{"p":4,"s":"PSD","t":0.9,"v":-0.025},{"p":4,"s":"PSD","t":1.2,"v":-0.045},{"p":4,"s":"PSD","t":1.5,"v":-0.058},{"p":4,"s":"PSD","t":1.8,"v":-0.065},{"p":4,"s":"PSD","t":2.1,"v":-0.07},{"p":4,"s":"PSD","t":2.4,"v":-0.076},{"p":4,"s":"PSD","t":2.7,"v":-0.074},{"p":4,"s":"PSD","t":3.0,"v":-0.073},{"p":4,"s":"PSD","t":3.3,"v":-0.078},{"p":4,"s":"PSD","t":3.6,"v":-0.08},{"p":4,"s":"PSD","t":3.9,"v":-0.082},{"p":4,"s":"PSD","t":4.2,"v":-0.079},{"p":4,"s":"PSD","t":4.5,"v":-0.077},{"p":4,"s":"PSD","t":4.8,"v":-0.08},{"p":4,"s":"PSD","t":5.1,"v":-0.082},{"p":4,"s":"PSD","t":5.4,"v":-0.085},{"p":4,"s":"PSD","t":5.7,"v":-0.087},{"p":4,"s":"PSD","t":6.0,"v":-0.09},{"p":4,"s":"PSD","t":6.3,"v":-0.091},{"p":4,"s":"PSD","t":6.6,"v":-0.09},{"p":4,"s":"PSD","t":6.9,"v":-0.082},{"p":4,"s":"PSD","t":7.1,"v":-0.07},{"p":4,"s":"PSD","t":7.3,"v":-0.056},{"p":4,"s":"PSD","t":7.5,"v":-0.04},{"p":4,"s":"PSD","t":7.7,"v":-0.032},{"p":4,"s":"PSD","t":8.0,"v":-0.026},{"p":4,"s":"PSD","t":8.3,"v":-0.022},{"p":4,"s":"PSD","t":8.6,"v":-0.02},{"p":4,"s":"PSD","t":8.9,"v":-0.017},{"p":4,"s":"PSD","t":9.2,"v":-0.012},{"p":4,"s":"PSD","t":9.5,"v":-0.004},{"p":4,"s":"PSD","t":9.8,"v":0.006},{"p":4,"s":"PSD","t":10.1,"v":0.013},{"p":4,"s":"PSD","t":10.4,"v":0.02},{"p":4,"s":"PSD","t":10.7,"v":0.022},{"p":4,"s":"PSD","t":11.0,"v":0.021},{"p":4,"s":"PSD","t":11.3,"v":0.018},{"p":4,"s":"PSD","t":11.6,"v":0.015},{"p":4,"s":"PSD","t":11.9,"v":0.01},{"p":4,"s":"PSD","t":12.1,"v":0.012},{"p":4,"s":"PSD","t":12.3,"v":0.04},{"p":4,"s":"PSD","t":12.5,"v":0.07},{"p":4,"s":"PSD","t":12.7,"v":0.095},{"p":4,"s":"PSD","t":12.9,"v":0.11},{"p":4,"s":"PSD","t":13.1,"v":0.12},{"p":4,"s":"PSD","t":13.3,"v":0.118},{"p":4,"s":"PSD","t":13.5,"v":0.114},{"p":4,"s":"PSD","t":13.7,"v":0.108},{"p":4,"s":"PSD","t":13.9,"v":0.096},{"p":4,"s":"PSD","t":14.1,"v":0.09},{"p":4,"s":"PSD","t":14.3,"v":0.08},{"p":4,"s":"PSD","t":14.5,"v":0.077},{"p":4,"s":"PSD","t":14.8,"v":0.088},{"p":4,"s":"PSD","t":15.1,"v":0.095},{"p":4,"s":"PSD","t":15.4,"v":0.1},{"p":4,"s":"PSD","t":15.7,"v":0.102},{"p":4,"s":"PSD","t":16.0,"v":0.098},{"p":4,"s":"PSD","t":16.3,"v":0.102},{"p":4,"s":"PSD","t":16.6,"v":0.104},{"p":4,"s":"PSD","t":16.9,"v":0.106},{"p":4,"s":"PSD","t":17.2,"v":0.107},{"p":4,"s":"PSD","t":17.5,"v":0.107},{"p":4,"s":"PSD","t":18.0,"v":0.108},{"p":4,"s":"PSD","t":18.5,"v":0.108},{"p":4,"s":"PSD","t":19.0,"v":0.11},{"p":4,"s":"PSD","t":19.5,"v":0.115},{"p":4,"s":"PSD","t":19.8,"v":0.12},{"p":4,"s":"PSD","t":20.1,"v":0.128},{"p":4,"s":"PSD","t":20.3,"v":0.14},{"p":4,"s":"PSD","t":20.5,"v":0.148},{"p":4,"s":"PSD","t":20.7,"v":0.15},{"p":4,"s":"PSD","t":20.9,"v":0.128},{"p":4,"s":"PSD","t":21.1,"v":0.09},{"p":4,"s":"PSD","t":21.3,"v":0.072},{"p":4,"s":"PSD","t":21.6,"v":0.062},{"p":4,"s":"PSD","t":21.9,"v":0.056},{"p":4,"s":"PSD","t":22.2,"v":0.05},{"p":4,"s":"PSD","t":22.5,"v":0.043},{"p":4,"s":"PSD","t":22.8,"v":0.035},{"p":4,"s":"PSD","t":23.1,"v":0.028},{"p":4,"s":"PSD","t":23.4,"v":0.018},{"p":4,"s":"PSD","t":23.7,"v":0.012},{"p":4,"s":"PSD","t":24,"v":0.016}
],
"notes": [
{"p":1,"label":"GPC","x":11.95,"y":0.138},{"p":1,"label":"PSD","x":8.0,"y":-0.19},
{"p":2,"label":"PSD","x":8.8,"y":0.171},{"p":2,"label":"GPC","x":9.36,"y":-0.17},
{"p":3,"label":"PSD","x":17.07,"y":0.185},{"p":3,"label":"GPC","x":8.98,"y":-0.154},
{"p":4,"label":"GPC","x":3.67,"y":0.154},{"p":4,"label":"PSD","x":12.95,"y":-0.179}
],
"arrows": [
{"p":1,"x":15.15,"y":0.104,"x2":17.65,"y2":0.019},{"p":1,"x":10.9,"y":-0.179,"x2":15.0,"y2":-0.143},
{"p":2,"x":11.1,"y":0.15,"x2":14.5,"y2":0.081},{"p":2,"x":12.75,"y":-0.124,"x2":16.3,"y2":-0.062},
{"p":3,"x":14.4,"y":0.168,"x2":9.9,"y2":0.139},{"p":3,"x":6.3,"y":-0.115,"x2":2.3,"y2":-0.064},
{"p":4,"x":6.17,"y":0.121,"x2":10.1,"y2":0.081},{"p":4,"x":10.3,"y":-0.145,"x2":6.17,"y2":-0.094}
]
},
"vconcat": [
{"hconcat": [
{"width": 224, "height": 198, "layer": [
 {"data": {"name": "lines"}, "transform": [{"filter": "datum.p == 1 && datum.s == 'PSD'"}], "mark": {"type": "line", "color": "#b8b8b8", "strokeWidth": 5.5, "strokeJoin": "round"}, "encoding": {"x": {"field": "t", "type": "quantitative", "title": null, "scale": {"domain": [0, 24], "nice": false, "zero": false}, "axis": {"values": [0, 6, 12, 18, 24]}}, "y": {"field": "v", "type": "quantitative", "title": null, "scale": {"domain": [-0.25, 0.25], "nice": false, "zero": false}, "axis": {"values": [-0.2, -0.1, 0, 0.1, 0.2], "labelExpr": "datum.value == 0 ? '0' : (datum.value < 0 ? '-' + format(-datum.value, '.1f') : format(datum.value, '.1f'))"}}}},
 {"data": {"name": "lines"}, "transform": [{"filter": "datum.p == 1 && datum.s == 'GPC'"}], "mark": {"type": "line", "color": "#686868", "strokeWidth": 5.5, "strokeJoin": "round"}, "encoding": {"x": {"field": "t", "type": "quantitative", "title": null}, "y": {"field": "v", "type": "quantitative", "title": null}}},
 {"data": {"name": "arrows"}, "transform": [{"filter": "datum.p == 1"}], "mark": {"type": "rule", "color": "#111", "strokeWidth": 1.5}, "encoding": {"x": {"field": "x", "type": "quantitative", "title": null}, "y": {"field": "y", "type": "quantitative", "title": null}, "x2": {"field": "x2"}, "y2": {"field": "y2"}}},
 {"data": {"name": "notes"}, "transform": [{"filter": "datum.p == 1"}], "mark": {"type": "text", "font": "Liberation Serif", "fontWeight": "bold", "fontSize": 25, "align": "center", "baseline": "middle"}, "encoding": {"x": {"field": "x", "type": "quantitative", "title": null}, "y": {"field": "y", "type": "quantitative", "title": null}, "text": {"field": "label"}, "color": {"condition": {"test": "datum.label == 'GPC'", "value": "#505050"}, "value": "#aaaaaa"}}}
]},
{"width": 224, "height": 198, "layer": [
 {"data": {"name": "lines"}, "transform": [{"filter": "datum.p == 2 && datum.s == 'PSD'"}], "mark": {"type": "line", "color": "#b8b8b8", "strokeWidth": 5.5, "strokeJoin": "round"}, "encoding": {"x": {"field": "t", "type": "quantitative", "title": null, "scale": {"domain": [0, 24], "nice": false, "zero": false}, "axis": {"values": [0, 6, 12, 18, 24]}}, "y": {"field": "v", "type": "quantitative", "title": null, "scale": {"domain": [-0.25, 0.25], "nice": false, "zero": false}, "axis": {"values": [-0.2, -0.1, 0, 0.1, 0.2], "labelExpr": "datum.value == 0 ? '0' : (datum.value < 0 ? '-' + format(-datum.value, '.1f') : format(datum.value, '.1f'))"}}}},
 {"data": {"name": "lines"}, "transform": [{"filter": "datum.p == 2 && datum.s == 'GPC'"}], "mark": {"type": "line", "color": "#686868", "strokeWidth": 5.5, "strokeJoin": "round"}, "encoding": {"x": {"field": "t", "type": "quantitative", "title": null}, "y": {"field": "v", "type": "quantitative", "title": null}}},
 {"data": {"name": "arrows"}, "transform": [{"filter": "datum.p == 2"}], "mark": {"type": "rule", "color": "#111", "strokeWidth": 1.5}, "encoding": {"x": {"field": "x", "type": "quantitative", "title": null}, "y": {"field": "y", "type": "quantitative", "title": null}, "x2": {"field": "x2"}, "y2": {"field": "y2"}}},
 {"data": {"name": "notes"}, "transform": [{"filter": "datum.p == 2"}], "mark": {"type": "text", "font": "Liberation Serif", "fontWeight": "bold", "fontSize": 25, "align": "center", "baseline": "middle"}, "encoding": {"x": {"field": "x", "type": "quantitative", "title": null}, "y": {"field": "y", "type": "quantitative", "title": null}, "text": {"field": "label"}, "color": {"condition": {"test": "datum.label == 'GPC'", "value": "#505050"}, "value": "#aaaaaa"}}}
]}
], "spacing": 23},
{"hconcat": [
{"width": 223, "height": 197, "layer": [
 {"data": {"name": "lines"}, "transform": [{"filter": "datum.p == 3 && datum.s == 'PSD'"}], "mark": {"type": "line", "color": "#b8b8b8", "strokeWidth": 5.5, "strokeJoin": "round"}, "encoding": {"x": {"field": "t", "type": "quantitative", "title": null, "scale": {"domain": [0, 24], "nice": false, "zero": false}, "axis": {"values": [0, 6, 12, 18, 24]}}, "y": {"field": "v", "type": "quantitative", "title": null, "scale": {"domain": [-0.25, 0.25], "nice": false, "zero": false}, "axis": {"values": [-0.2, -0.1, 0, 0.1, 0.2], "labelExpr": "datum.value == 0 ? '0' : (datum.value < 0 ? '-' + format(-datum.value, '.1f') : format(datum.value, '.1f'))"}}}},
 {"data": {"name": "lines"}, "transform": [{"filter": "datum.p == 3 && datum.s == 'GPC'"}], "mark": {"type": "line", "color": "#454545", "strokeWidth": 5.5, "strokeJoin": "round"}, "encoding": {"x": {"field": "t", "type": "quantitative", "title": null}, "y": {"field": "v", "type": "quantitative", "title": null}}},
 {"data": {"name": "arrows"}, "transform": [{"filter": "datum.p == 3"}], "mark": {"type": "rule", "color": "#111", "strokeWidth": 1.5}, "encoding": {"x": {"field": "x", "type": "quantitative", "title": null}, "y": {"field": "y", "type": "quantitative", "title": null}, "x2": {"field": "x2"}, "y2": {"field": "y2"}}},
 {"data": {"name": "notes"}, "transform": [{"filter": "datum.p == 3"}], "mark": {"type": "text", "font": "Liberation Serif", "fontWeight": "bold", "fontSize": 25, "align": "center", "baseline": "middle"}, "encoding": {"x": {"field": "x", "type": "quantitative", "title": null}, "y": {"field": "y", "type": "quantitative", "title": null}, "text": {"field": "label"}, "color": {"condition": {"test": "datum.label == 'GPC'", "value": "#454545"}, "value": "#aaaaaa"}}}
]},
{"width": 224, "height": 197, "layer": [
 {"data": {"name": "lines"}, "transform": [{"filter": "datum.p == 4 && datum.s == 'PSD'"}], "mark": {"type": "line", "color": "#b8b8b8", "strokeWidth": 5.5, "strokeJoin": "round"}, "encoding": {"x": {"field": "t", "type": "quantitative", "title": null, "scale": {"domain": [0, 24], "nice": false, "zero": false}, "axis": {"values": [0, 6, 12, 18, 24]}}, "y": {"field": "v", "type": "quantitative", "title": null, "scale": {"domain": [-0.25, 0.25], "nice": false, "zero": false}, "axis": {"values": [-0.2, -0.1, 0, 0.1, 0.2], "labelExpr": "datum.value == 0 ? '0' : (datum.value < 0 ? '-' + format(-datum.value, '.1f') : format(datum.value, '.1f'))"}}}},
 {"data": {"name": "lines"}, "transform": [{"filter": "datum.p == 4 && datum.s == 'GPC'"}], "mark": {"type": "line", "color": "#454545", "strokeWidth": 5.5, "strokeJoin": "round"}, "encoding": {"x": {"field": "t", "type": "quantitative", "title": null}, "y": {"field": "v", "type": "quantitative", "title": null}}},
 {"data": {"name": "arrows"}, "transform": [{"filter": "datum.p == 4"}], "mark": {"type": "rule", "color": "#111", "strokeWidth": 1.5}, "encoding": {"x": {"field": "x", "type": "quantitative", "title": null}, "y": {"field": "y", "type": "quantitative", "title": null}, "x2": {"field": "x2"}, "y2": {"field": "y2"}}},
 {"data": {"name": "notes"}, "transform": [{"filter": "datum.p == 4"}], "mark": {"type": "text", "font": "Liberation Serif", "fontWeight": "bold", "fontSize": 25, "align": "center", "baseline": "middle"}, "encoding": {"x": {"field": "x", "type": "quantitative", "title": null}, "y": {"field": "y", "type": "quantitative", "title": null}, "text": {"field": "label"}, "color": {"condition": {"test": "datum.label == 'GPC'", "value": "#454545"}, "value": "#aaaaaa"}}}
]}
], "spacing": 23}
],
"spacing": 9
}
